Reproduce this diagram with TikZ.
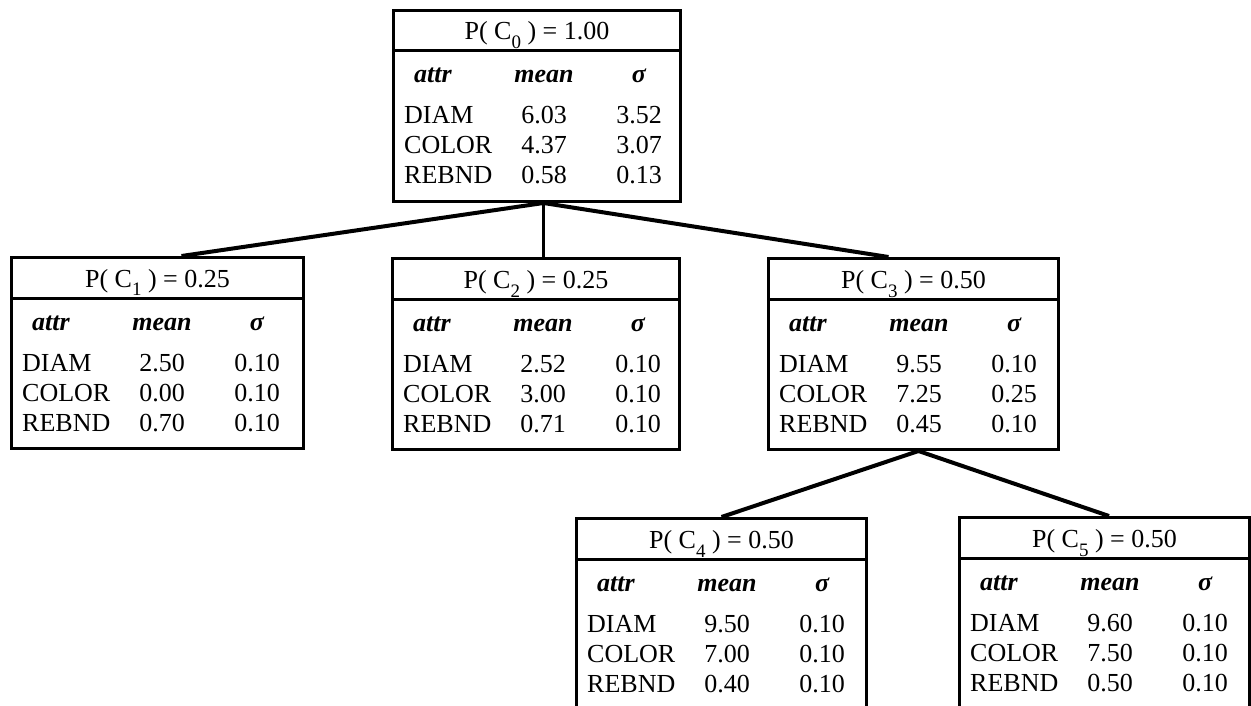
\documentclass[tikz,border=0pt]{standalone}
\usepackage{fontspec}
\setmainfont{Liberation Serif}
\usetikzlibrary{calc}
\newcommand{\subsc}[1]{\raisebox{-9pt}{\fontsize{19}{19}\selectfont #1}}
\tikzset{
  clbox/.style={draw, rectangle, line width=3pt, inner sep=0pt, anchor=north west, minimum height=191pt},
  divider/.style={line width=3pt},
  link/.style={line width=4pt},
  vlink/.style={line width=2.5pt},
  hdr/.style={anchor=base, inner sep=0pt, font=\fontsize{26}{26}\selectfont},
  rowlab/.style={anchor=base west, inner sep=0pt, font=\fontsize{26}{26}\selectfont},
  num/.style={anchor=base, inner sep=0pt, font=\fontsize{26}{26}\selectfont},
  colhead/.style={inner sep=0pt, font=\fontsize{26}{26}\selectfont\bfseries\itshape},
}
% name, left, top, width, subscript, probability, rows
\newcommand{\clusterbox}[7]{%
  \node[clbox, minimum width=#4pt] (#1) at (#2,#3) {};
  \draw[divider] ($(#1.north west)+(0,42)$) -- ($(#1.north east)+(0,42)$);
  \node[hdr] (#1-head) at ($(#1.north)+(0,31)$) {P( C\subsc{#5} ) = #6};
  \node[colhead, anchor=base west] (#1-attr) at ($(#1.north west)+(22,74)$) {attr};
  \node[colhead, anchor=base] (#1-mean) at ($(#1.north west)+(152,74)$) {mean};
  \node[colhead, anchor=base] (#1-sig) at ($(#1.north west)+(247,74)$) {σ};
  \foreach \lab/\m/\s [count=\i] in {#7} {
    \node[rowlab] (#1-lab\i) at ($(#1.north west)+(12,85+30*\i)$) {\lab};
    \node[num] (#1-m\i) at ($(#1.north west)+(152,85+30*\i)$) {\m};
    \node[num] (#1-s\i) at ($(#1.north west)+(247,85+30*\i)$) {\s};
  }
}
\begin{document}
\begin{tikzpicture}[x=1pt, y=-1pt]
  \useasboundingbox (0,0) rectangle (1251,706);
  \clip (0,0) rectangle (1251,706);
  \fill[white] (0,0) rectangle (1251,706);

  \clusterbox{c0}{392}{9}{287}{0}{1.00}{DIAM/6.03/3.52, COLOR/4.37/3.07, REBND/0.58/0.13}
  \clusterbox{c1}{10}{256}{292}{1}{0.25}{DIAM/2.50/0.10, COLOR/0.00/0.10, REBND/0.70/0.10}
  \clusterbox{c2}{391}{257}{287}{2}{0.25}{DIAM/2.52/0.10, COLOR/3.00/0.10, REBND/0.71/0.10}
  \clusterbox{c3}{767}{257}{290}{3}{0.50}{DIAM/9.55/0.10, COLOR/7.25/0.25, REBND/0.45/0.10}
  \clusterbox{c4}{575}{517}{290}{4}{0.50}{DIAM/9.50/0.10, COLOR/7.00/0.10, REBND/0.40/0.10}
  \clusterbox{c5}{958}{516}{290}{5}{0.50}{DIAM/9.60/0.10, COLOR/7.50/0.10, REBND/0.50/0.10}

  \coordinate (j0) at ($(c0.south)+(6.5,0)$);
  \coordinate (e1) at ($(c1.north)+(24,0)$);
  \coordinate (e3) at ($(c3.north)+(-25,0)$);
  \coordinate (j3) at ($(c3.south)+(5,0)$);
  \coordinate (e5) at ($(c5.north)+(4.5,0)$);

  \draw[link] (j0) -- (e1);
  \draw[vlink] (j0) -- (j0 |- c2.north);
  \draw[link] (j0) -- (e3);
  \draw[link] (j3) -- (c4.north);
  \draw[link] (j3) -- (e5);
\end{tikzpicture}
\end{document}
